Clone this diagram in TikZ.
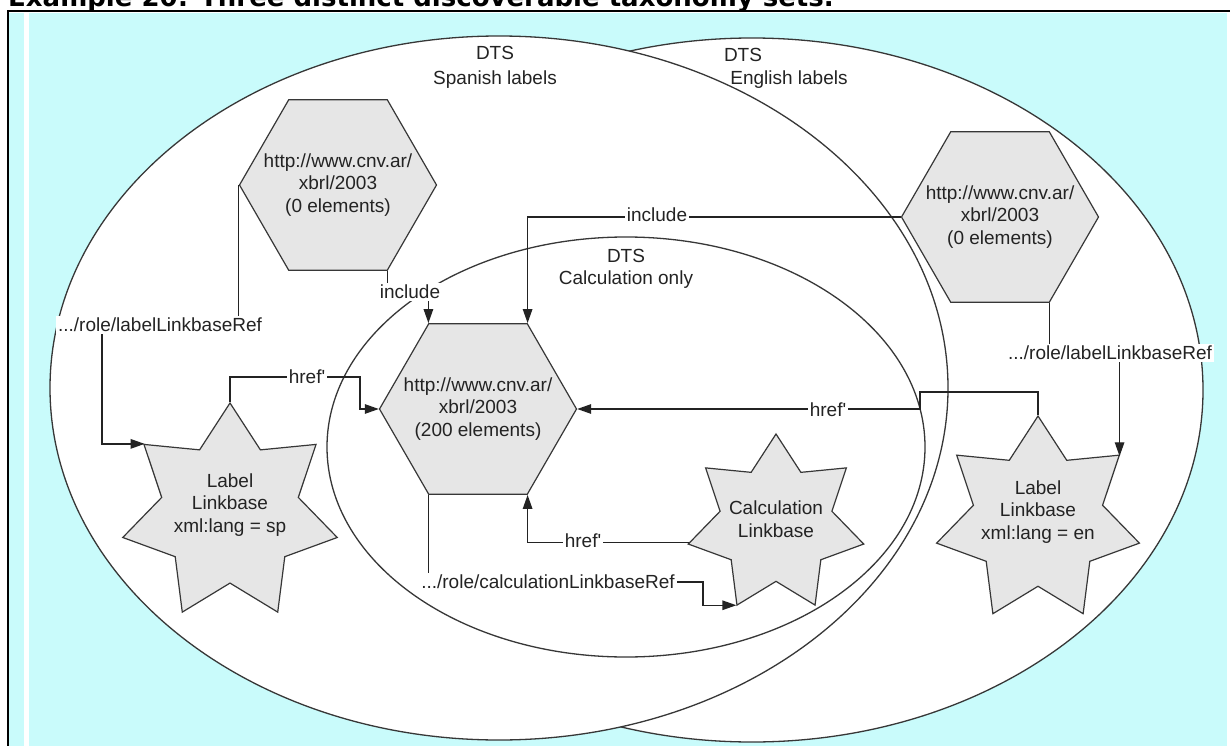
\documentclass[tikz,border=0pt]{standalone}
\usepackage{fontspec}
\setmainfont{Liberation Sans}
\newfontfamily\titlefont{DejaVu Sans}
\usetikzlibrary{shapes.geometric,arrows.meta}
\definecolor{bgcyan}{RGB}{201,251,251}
\definecolor{shapegray}{RGB}{230,230,230}
\definecolor{linegray}{RGB}{55,55,55}
\definecolor{inkgray}{RGB}{35,35,35}

\begin{document}
\begin{tikzpicture}[x=1pt,y=-1pt,
  every node/.style={font=\fontsize{19}{22.5}\selectfont, text=inkgray},
  region/.style={draw=linegray, line width=1.3pt, fill=white},
  hexnode/.style={regular polygon, regular polygon sides=6, minimum size=197pt,
    inner sep=0pt, draw=linegray, line width=1.2pt, fill=shapegray},
  starnode/.style={star, star points=7, star point ratio=1.57, inner sep=0pt,
    draw=linegray, line width=1.2pt, fill=shapegray},
  txt/.style={align=center},
  conn/.style={draw=inkgray, line width=1.3pt},
  arr/.style={conn, -{Triangle[length=14pt,width=9.5pt]}},
  tag/.style={fill=white, inner sep=2pt},
]
\useasboundingbox (0,0) rectangle (1230,746);
\clip (0,0) rectangle (1230,746);

% page background and frame
\fill[white] (0,0) rectangle (1230,746);
\fill[bgcyan] (9,13) rectangle (1227,746);
\fill[white] (24,13) rectangle (29,746);
\draw[line width=2.4pt] (8,746) -- (8,11) -- (1230,11);
\node[anchor=base west, inner sep=0pt, text=black,
  font=\titlefont\bfseries\fontsize{26}{30}\selectfont] (title) at (8,7)
  {Example 20: Three distinct discoverable taxonomy sets.};

% the three DTS regions
\draw[region] (752,390) ellipse [x radius=451, y radius=352];
\draw[region] (499,388) ellipse [x radius=449, y radius=352];
\draw[region] (626,447) ellipse [x radius=299, y radius=210];

\node[txt, font=\fontsize{19}{25}\selectfont] (dtsSp) at (495,67) {DTS\\Spanish labels};
\node (dtsEnA) at (743,55) {DTS};
\node (dtsEnB) at (789,80) {English labels};
\node[txt] (dtsCalc) at (626,269) {DTS\\Calculation only};

% schemas (hexagons) with their captions
\node[hexnode] (hexA) at (338,185) {};
\node[txt] (hexAtxt) at (hexA.center) {http://www.cnv.ar/\\xbrl/2003\\(0 elements)};
\node[hexnode] (hexB) at (478,409) {};
\node[txt] (hexBtxt) at (hexB.center) {http://www.cnv.ar/\\xbrl/2003\\(200 elements)};
\node[hexnode] (hexC) at (1000,217) {};
\node[txt] (hexCtxt) at (hexC.center) {http://www.cnv.ar/\\xbrl/2003\\(0 elements)};

% linkbases (seven-pointed stars) with their captions
\node[starnode, minimum size=220pt] (starL) at (230,513) {};
\node[txt] (starLtxt) at (230,505) {Label\\Linkbase\\xml:lang = sp};
\node[starnode, minimum size=180pt] (starC) at (776,524) {};
\node[txt] (starCtxt) at (776,519) {Calculation\\Linkbase};
\node[starnode, minimum size=208pt] (starR) at (1038,520) {};
\node[txt] (starRtxt) at (1038,512) {Label\\Linkbase\\xml:lang = en};

% references
\coordinate (jA) at (102,325);
\coordinate (jB) at (360,377);
\coordinate (jC) at (410,292);
\coordinate (jD) at (920,392);
\coordinate (jE) at (1110,353);
\coordinate (jF) at (703,582);
\draw[arr] (hexA.180) |- (jA) |- (starL.141.43);
\draw[arr] (starL.90) |- (jB) |- (hexB.180);
\draw[arr] (hexA.300) |- (jC) -| (hexB.120);
\draw[arr] (hexC.180) -| (hexB.60);
\draw[arr] (starR.90) |- (jD) |- (hexB.0);
\draw[arr] (hexC.300) |- (jE) -| (starR.38.57);
\draw[arr] (starC.192.86) -| (hexB.300);
\draw[arr] (hexB.240) |- (jF) |- (starC.244.29);

\node[tag] (lblSp) at (160,325) {.../role/labelLinkbaseRef};
\node[tag] (lblHrefL) at (307,377) {href\textquotesingle};
\node[tag] (lblIncA) at (410,292) {include};
\node[tag] (lblIncC) at (657,215) {include};
\node[tag] (lblHrefR) at (828,410) {href\textquotesingle};
\node[tag] (lblEn) at (1110,353) {.../role/labelLinkbaseRef};
\node[tag] (lblHrefC) at (583,541) {href\textquotesingle};
\node[tag] (lblCalc) at (548,582) {.../role/calculationLinkbaseRef};
\end{tikzpicture}
\end{document}
